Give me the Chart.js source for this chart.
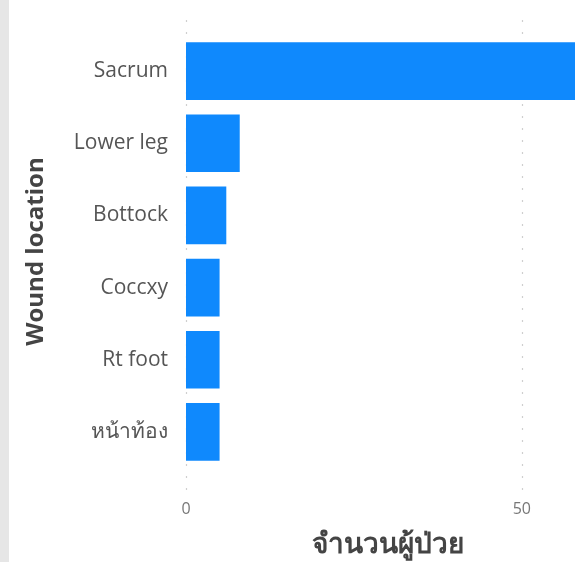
<!DOCTYPE html>
<html>
<head>
<meta charset="utf-8">
<script src="https://cdn.jsdelivr.net/npm/chart.js@4/dist/chart.umd.min.js"></script>
<style>
  html, body { margin: 0; padding: 0; background: #fff; overflow: hidden; }
  body { width: 575px; height: 562px; position: relative; }
  #strip { position: absolute; left: 0; top: 0; width: 9px; height: 562px; background: #e6e6e6; }
  #wrap { position: absolute; left: 0; top: 0; width: 589px; height: 562px; }
</style>
</head>
<body>
<div id="strip"></div>
<div id="wrap"><canvas id="woundChart"></canvas></div>
<script>
// Jumlah pasien per lokasi luka
const locations = ["Sacrum", "Lower leg", "Bottock", "Coccxy", "Rt foot", "หน้าท้อง"];
const patients = [59, 8, 6, 5, 5, 5];
const xTicks = [0, 50];

const FONT = "'Open Sans', 'Noto Sans', sans-serif";

// Garis grid titik-titik, lebih panjang dari area chart
const dottedGrid = {
  id: "dottedGrid",
  beforeDatasetsDraw(chart) {
    const ctx = chart.ctx;
    const x = chart.scales.x;
    const area = chart.chartArea;
    ctx.save();
    ctx.strokeStyle = "#cfcfcf";
    ctx.lineWidth = 1.2;
    ctx.setLineDash([2, 10]);
    xTicks.forEach(v => {
      const px = Math.round(x.getPixelForValue(v)) + 0.5;
      ctx.beginPath();
      ctx.moveTo(px, area.top - 15);
      ctx.lineTo(px, area.bottom + 22);
      ctx.stroke();
    });
    ctx.restore();
  }
};

new Chart(document.getElementById("woundChart"), {
  type: "bar",
  data: {
    labels: locations,
    datasets: [{
      data: patients,
      backgroundColor: "#0f89fd",
      borderWidth: 0,
      categoryPercentage: 1,
      barPercentage: 0.8
    }]
  },
  options: {
    indexAxis: "y",
    responsive: true,
    maintainAspectRatio: false,
    animation: false,
    layout: { padding: { top: 35, right: 0, bottom: 0, left: 0 } },
    plugins: { legend: { display: false }, tooltip: { enabled: false } },
    scales: {
      x: {
        min: 0,
        max: 60,
        afterBuildTicks: s => { s.ticks = xTicks.map(v => ({ value: v })); },
        grid: { display: false, drawTicks: false },
        border: { display: false },
        ticks: { color: "#777", font: { family: FONT, size: 16 }, padding: 32 },
        title: {
          display: true,
          text: "จำนวนผู้ป่วย",
          color: "#444",
          font: { family: FONT, size: 28, weight: "bold" },
          padding: { top: 0, bottom: 0 }
        },
        afterFit: s => { s.height = 94; }
      },
      y: {
        grid: { display: false, drawTicks: false },
        border: { display: false },
        ticks: { color: "#555", font: { family: FONT, size: 21 }, padding: 18 },
        title: {
          display: true,
          text: "Wound location",
          color: "#444",
          font: { family: FONT, size: 24, weight: "bold" },
          padding: { top: 22, bottom: 0 }
        },
        afterFit: s => { s.width = 186; }
      }
    }
  },
  plugins: [dottedGrid]
});
</script>
</body>
</html>
